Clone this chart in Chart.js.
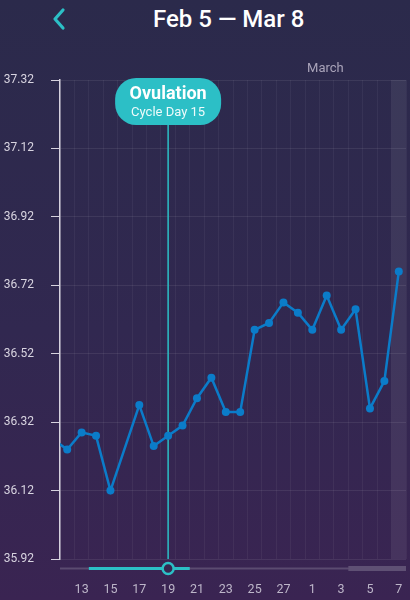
<!DOCTYPE html>
<html lang="en">
<head>
<meta charset="UTF-8">
<meta name="viewport" content="width=device-width, initial-scale=1">
<title>Feb 5 — Mar 8</title>
<script src="https://cdn.jsdelivr.net/npm/chart.js"></script>
<style>
    html, body {
        margin: 0;
        padding: 0;
    }

    body {
        width: 410px;
        height: 600px;
        overflow: hidden;
        position: relative;
        font-family: Roboto, 'Noto Sans', sans-serif;
        background: linear-gradient(180deg, #2b2a4b 0%, #312850 55%, #3a2452 100%);
    }

    .back {
        position: absolute;
        left: 48px;
        top: 6px;
    }

    .title {
        position: absolute;
        left: 153px;
        top: 5px;
        color: #ffffff;
        font-size: 24px;
        font-weight: 500;
        white-space: nowrap;
    }

    .chart-box {
        position: absolute;
        left: 0;
        top: 0;
        width: 410px;
        height: 600px;
    }

    canvas {
        display: block;
    }
</style>
</head>
<body>
    <svg class="back" width="22" height="26" viewBox="0 0 22 26">
        <polyline points="15,4 7,13 15,22" fill="none" stroke="#2cbfc6" stroke-width="3.2" stroke-linecap="round" stroke-linejoin="round"/>
    </svg>
    <div class="title">Feb 5 — Mar 8</div>

    <div class="chart-box">
        <canvas id="tempChart" width="410" height="600"></canvas>
    </div>

<script>
    // days shown (Feb 11 .. Mar 7), one label per day
    const dayLabels = ['11', '12', '13', '14', '15', '16', '17', '18', '19', '20', '21', '22', '23', '24',
                       '25', '26', '27', '28', '1', '2', '3', '4', '5', '6', '7'];
    // basal temperature, null = no reading
    const temps = [36.27, 36.24, 36.29, 36.28, 36.12, null, 36.37, 36.25, 36.28, 36.31, 36.39, 36.45, 36.35,
                   36.35, 36.59, 36.61, 36.67, 36.64, 36.59, 36.69, 36.59, 36.65, 36.36, 36.44, 36.76];
    const yTicks = [35.92, 36.12, 36.32, 36.52, 36.72, 36.92, 37.12, 37.32];

    const ovulationDay = 8;      // Feb 19
    const fertileDays = [3, 9];  // Feb 14 .. Feb 20
    const periodDays = [21, 24]; // Mar 4 .. Mar 7
    const todayDay = 24;         // Mar 7
    const marchStart = 18;       // Mar 1

    const teal = '#2cbfc6';

    function roundRect(ctx, x, y, w, h, r) {
        ctx.beginPath();
        ctx.moveTo(x + r, y);
        ctx.arcTo(x + w, y, x + w, y + h, r);
        ctx.arcTo(x + w, y + h, x, y + h, r);
        ctx.arcTo(x, y + h, x, y, r);
        ctx.arcTo(x, y, x + w, y, r);
        ctx.closePath();
    }

    // band for today + ovulation marker line
    const underlay = {
        id: 'underlay',
        beforeDatasetsDraw(chart) {
            const { ctx, chartArea, scales } = chart;
            const x = scales.x;
            ctx.save();
            ctx.fillStyle = 'rgba(255,255,255,0.07)';
            const bx = x.getPixelForValue(todayDay - 0.5);
            ctx.fillRect(bx, chartArea.top, x.getPixelForValue(todayDay + 0.5) - bx, chartArea.bottom - chartArea.top);

            const ox = x.getPixelForValue(ovulationDay);
            ctx.strokeStyle = teal;
            ctx.lineWidth = 1.5;
            ctx.beginPath();
            ctx.moveTo(ox, chartArea.top + 40);
            ctx.lineTo(ox, chartArea.bottom);
            ctx.stroke();
            ctx.restore();
        }
    };

    // bubble, month label, range bar
    const overlay = {
        id: 'overlay',
        afterDraw(chart) {
            const { ctx, chartArea, scales } = chart;
            const x = scales.x;
            const ox = x.getPixelForValue(ovulationDay);
            ctx.save();

            // ovulation bubble
            roundRect(ctx, ox - 53, chartArea.top - 2, 106, 47, 21);
            ctx.fillStyle = teal;
            ctx.fill();
            ctx.fillStyle = '#ffffff';
            ctx.textAlign = 'center';
            ctx.textBaseline = 'middle';
            ctx.font = 'bold 18px Roboto';
            ctx.fillText('Ovulation', ox, chartArea.top + 14);
            ctx.font = '13px Roboto';
            ctx.fillStyle = '#eefbfb';
            ctx.fillText('Cycle Day 15', ox, chartArea.top + 33);

            // month label
            ctx.textAlign = 'left';
            ctx.font = '13px Roboto';
            ctx.fillStyle = '#a9a3b9';
            ctx.fillText('March', x.getPixelForValue(marchStart - 0.5) + 2, chartArea.top - 11);

            // range bar below the plot
            const by = chartArea.bottom + 9.5;
            ctx.lineCap = 'butt';
            ctx.strokeStyle = '#5b4b70';
            ctx.lineWidth = 2;
            ctx.beginPath();
            ctx.moveTo(chartArea.left, by);
            ctx.lineTo(chartArea.right, by);
            ctx.stroke();

            ctx.strokeStyle = '#5f5074';
            ctx.lineWidth = 5;
            ctx.beginPath();
            ctx.moveTo(x.getPixelForValue(periodDays[0] - 0.5), by);
            ctx.lineTo(Math.min(chartArea.right, x.getPixelForValue(periodDays[1] + 0.5)), by);
            ctx.stroke();

            ctx.strokeStyle = teal;
            ctx.lineWidth = 3;
            ctx.beginPath();
            ctx.moveTo(x.getPixelForValue(fertileDays[0] - 0.5), by);
            ctx.lineTo(x.getPixelForValue(fertileDays[1] + 0.5), by);
            ctx.stroke();

            ctx.beginPath();
            ctx.arc(ox, by, 5.5, 0, Math.PI * 2);
            ctx.fillStyle = '#372650';
            ctx.fill();
            ctx.lineWidth = 2.5;
            ctx.stroke();

            ctx.restore();
        }
    };

    new Chart(document.getElementById('tempChart'), {
        type: 'line',
        data: {
            datasets: [{
                data: temps.map((t, i) => ({ x: i, y: t })),
                borderColor: '#0b7cc9',
                backgroundColor: '#0b7cc9',
                borderWidth: 2.5,
                pointRadius: 4,
                pointBorderWidth: 0,
                tension: 0,
                spanGaps: true,
                clip: 0
            }]
        },
        options: {
            responsive: false,
            animation: false,
            layout: { padding: { top: 80, right: 3, left: 0, bottom: 0 } },
            plugins: {
                legend: { display: false },
                tooltip: { enabled: false }
            },
            scales: {
                x: {
                    type: 'linear',
                    min: 0.5,
                    max: dayLabels.length - 0.5,
                    afterBuildTicks: s => {
                        const t = [];
                        for (let v = 0.5; v <= dayLabels.length - 0.5; v += 0.5) t.push({ value: v });
                        s.ticks = t;
                    },
                    afterFit: s => { s.height = 41; },
                    border: { display: false },
                    grid: {
                        drawTicks: true,
                        tickLength: 23,
                        tickColor: 'rgba(0,0,0,0)',
                        color: c => Number.isInteger(c.tick.value) ? 'rgba(0,0,0,0)' : 'rgba(255,255,255,0.05)'
                    },
                    ticks: {
                        autoSkip: false,
                        maxRotation: 0,
                        padding: 0,
                        color: '#bdb6c9',
                        font: { family: 'Roboto', size: 12.5 },
                        callback: v => (Number.isInteger(v) && v % 2 === 0) ? dayLabels[v] : ''
                    }
                },
                y: {
                    min: 35.92,
                    max: 37.32,
                    afterBuildTicks: s => { s.ticks = yTicks.map(v => ({ value: v })); },
                    afterFit: s => { s.width = 60; },
                    border: { display: true, color: '#d6d2de', width: 1.5 },
                    grid: {
                        color: 'rgba(255,255,255,0.08)',
                        tickColor: '#d6d2de',
                        tickLength: 9
                    },
                    ticks: {
                        padding: 17,
                        color: '#d8d4e0',
                        font: { family: 'Roboto', size: 12 },
                        callback: v => v.toFixed(2)
                    }
                }
            }
        },
        plugins: [underlay, overlay]
    });
</script>
</body>
</html>
